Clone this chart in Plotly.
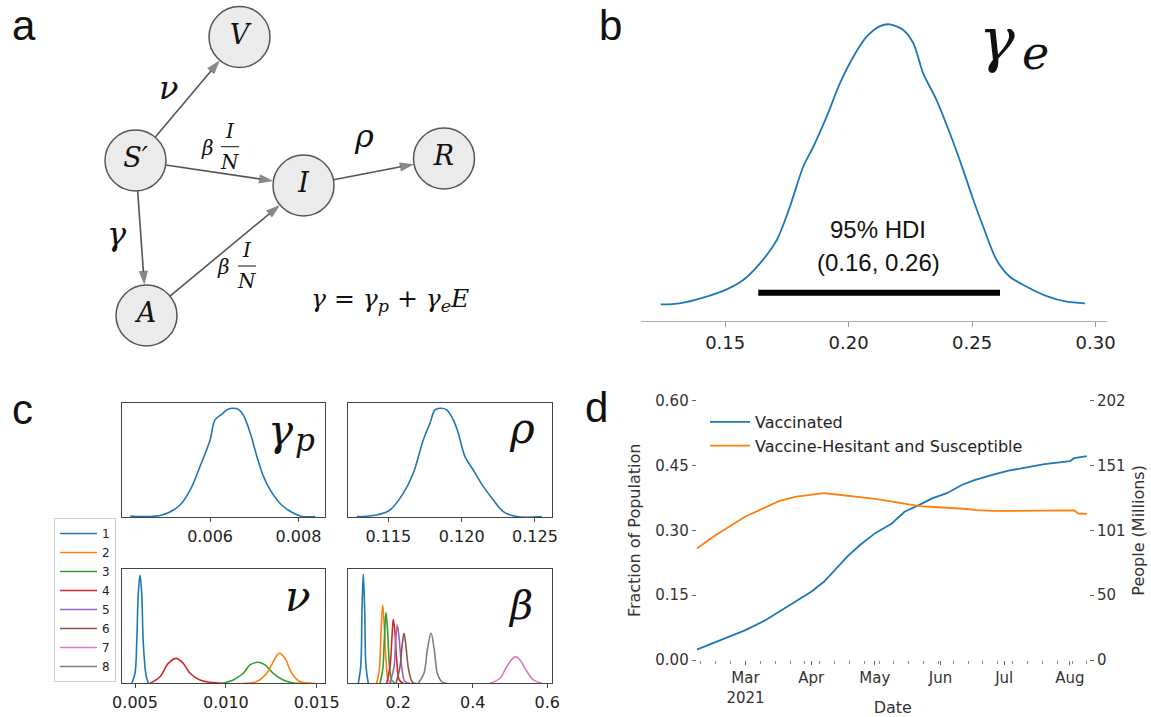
import math
import plotly.graph_objects as go

W, H = 1151, 717

# ---------------- panel a: compartment diagram ----------------
NODE_LABELS = ["<i>V</i>", "<i>S′</i>", "<i>I</i>", "<i>R</i>", "<i>A</i>"]
NODE_X = [239.5, 135.5, 303.5, 444.0, 146.5]
NODE_Y = [37.0, 160.5, 185.5, 158.5, 315.5]
NODE_R = 30.5
EDGE_FROM = [1, 1, 2, 1, 4]
EDGE_TO = [0, 2, 3, 4, 2]
RATE_TEXT = ["<i>ν</i>", "<i>ρ</i>", "<i>γ</i>"]
RATE_X = [168, 364, 117]
RATE_Y = [88, 136, 234]
FRAC_X = [230, 247]       # centre of the I/N fractions
FRAC_Y = [146.7, 266.0]   # fraction bar
BETA_X = [209, 225]
EQUATION = "<i>γ</i> = <i>γ</i><sub><i>p</i></sub> + <i>γ</i><sub><i>e</i></sub><i>E</i>"
EQ_X, EQ_Y = 390, 300

# ---------------- panel b: gamma_e posterior ----------------
GE_X = [0.1239, 0.1317, 0.1411, 0.1506, 0.1573, 0.1641, 0.1709, 0.1762, 0.1816, 0.1857,
        0.1911, 0.1965, 0.2019, 0.2073, 0.2127, 0.2167, 0.2221, 0.2262, 0.2302, 0.2356,
        0.2410, 0.2464, 0.2505, 0.2545, 0.2599, 0.2653, 0.2721, 0.2802, 0.2883, 0.2957]
GE_Y = [0.15, 0.21, 0.53, 1.00, 1.53, 2.47, 3.79, 5.67, 7.93, 9.06,
        10.76, 12.65, 14.15, 15.28, 15.88, 15.98, 15.66, 14.91, 13.21, 11.70,
        9.82, 7.74, 6.05, 4.54, 2.66, 1.71, 1.15, 0.62, 0.30, 0.21]
HDI_LOW, HDI_HIGH = 0.1634, 0.2613
HDI_LEVEL = 0.81

# ---------------- panel c: posteriors ----------------
GP_X = [0.00419, 0.00491, 0.00532, 0.00555, 0.00577, 0.00600, 0.00611, 0.00627, 0.00638, 0.00649,
        0.00664, 0.00675, 0.00691, 0.00706, 0.00721, 0.00736, 0.00762, 0.00804, 0.00838]
GP_Y = [0.012, 0.020, 0.108, 0.240, 0.444, 0.678, 0.854, 0.906, 0.942, 0.956,
        0.947, 0.898, 0.737, 0.532, 0.357, 0.240, 0.108, 0.012, 0.006]
RHO_X = [0.11284, 0.11421, 0.11511, 0.11602, 0.11670, 0.11738, 0.11784, 0.11818, 0.11852, 0.11898,
         0.11943, 0.11977, 0.12023, 0.12079, 0.12148, 0.12216, 0.12284, 0.12375, 0.12546]
RHO_Y = [0.006, 0.020, 0.064, 0.211, 0.386, 0.678, 0.825, 0.942, 0.956, 0.942,
         0.854, 0.737, 0.532, 0.415, 0.269, 0.152, 0.050, 0.006, 0.006]

GROUPS = ["1", "2", "3", "4", "5", "6", "7", "8"]
COLORS = ["#1f77b4", "#ff7f0e", "#2ca02c", "#d62728", "#9467bd", "#8c564b", "#e377c2", "#7f7f7f"]

NU_GROUPS = [0, 3, 2, 1]
NU_X = [
    [0.004816, 0.004998, 0.005092, 0.005180, 0.005273, 0.005367, 0.005455, 0.005604, 0.005730],
    [0.005824, 0.006374, 0.006831, 0.007255, 0.007657, 0.008026, 0.008576, 0.009308, 0.010046],
    [0.009859, 0.010409, 0.010960, 0.011328, 0.011785, 0.012154, 0.012611, 0.013161, 0.013712, 0.014262],
    [0.010960, 0.011697, 0.012248, 0.012611, 0.012942, 0.013255, 0.013624, 0.014081, 0.014907],
]
NU_Y = [
    [0.0, 0.088, 0.351, 0.789, 0.950, 0.789, 0.351, 0.073, 0.0],
    [0.0, 0.058, 0.175, 0.219, 0.175, 0.088, 0.029, 0.006, 0.0],
    [0.0, 0.029, 0.088, 0.161, 0.184, 0.161, 0.088, 0.029, 0.003, 0.0],
    [0.0, 0.015, 0.088, 0.190, 0.263, 0.219, 0.088, 0.015, 0.0],
]

BETA_XS = [
    [0.0926, 0.0991, 0.1026, 0.1061, 0.1098, 0.1133, 0.1195],
    [0.1420, 0.1490, 0.1536, 0.1581, 0.1625, 0.1670, 0.1732, 0.1823],
    [0.1509, 0.1581, 0.1625, 0.1670, 0.1716, 0.1759, 0.1823, 0.1912],
    [0.1689, 0.1777, 0.1831, 0.1866, 0.1912, 0.1957, 0.2027, 0.2134],
    [0.1777, 0.1885, 0.1931, 0.1973, 0.2027, 0.2092, 0.2180, 0.2314],
    [0.1939, 0.2046, 0.2100, 0.2153, 0.2207, 0.2279, 0.2387, 0.2494],
    [0.4462, 0.4730, 0.4910, 0.5071, 0.5160, 0.5267, 0.5428, 0.5625, 0.5850],
    [0.2537, 0.2690, 0.2779, 0.2878, 0.2967, 0.3047, 0.3165, 0.3300],
]
BETA_YS = [
    [0.0, 0.146, 0.643, 0.959, 0.643, 0.146, 0.0],
    [0.0, 0.117, 0.439, 0.687, 0.497, 0.205, 0.029, 0.0],
    [0.0, 0.117, 0.380, 0.620, 0.439, 0.175, 0.029, 0.0],
    [0.0, 0.146, 0.409, 0.561, 0.439, 0.205, 0.029, 0.0],
    [0.0, 0.146, 0.380, 0.512, 0.380, 0.146, 0.015, 0.0],
    [0.0, 0.146, 0.322, 0.439, 0.322, 0.117, 0.006, 0.0],
    [0.0, 0.044, 0.146, 0.219, 0.234, 0.205, 0.117, 0.029, 0.0],
    [0.0, 0.088, 0.292, 0.439, 0.292, 0.088, 0.015, 0.0],
]

# ---------------- panel d: vaccination time series ----------------
POP_MILLIONS = 336.7
VAC_DATES = ["2021-02-06", "2021-02-15", "2021-03-01", "2021-03-10", "2021-03-17", "2021-03-25",
             "2021-04-01", "2021-04-07", "2021-04-12", "2021-04-18", "2021-04-24", "2021-05-01",
             "2021-05-09", "2021-05-15", "2021-05-22", "2021-05-28", "2021-06-04", "2021-06-11",
             "2021-06-17", "2021-06-25", "2021-07-03", "2021-07-11", "2021-07-20", "2021-08-01",
             "2021-08-03", "2021-08-09"]
VAC = [0.024, 0.042, 0.069, 0.091, 0.112, 0.135, 0.158, 0.181, 0.208, 0.239, 0.266, 0.293,
       0.316, 0.343, 0.359, 0.374, 0.386, 0.405, 0.416, 0.428, 0.438, 0.445, 0.453, 0.460,
       0.467, 0.472]
HES_DATES = ["2021-02-06", "2021-02-15", "2021-03-01", "2021-03-10", "2021-03-17", "2021-03-25",
             "2021-04-01", "2021-04-07", "2021-04-13", "2021-04-21", "2021-04-29", "2021-05-05",
             "2021-05-10", "2021-05-16", "2021-05-22", "2021-05-29", "2021-06-04", "2021-06-12",
             "2021-06-18", "2021-06-26", "2021-07-05", "2021-07-13", "2021-07-21", "2021-08-03",
             "2021-08-05", "2021-08-09"]
HES = [0.258, 0.289, 0.332, 0.352, 0.368, 0.378, 0.383, 0.386, 0.383, 0.379, 0.374, 0.370,
       0.366, 0.360, 0.356, 0.354, 0.353, 0.350, 0.347, 0.345, 0.345, 0.345, 0.345, 0.346,
       0.339, 0.338]
MONTH_TICKS = ["2021-03-01", "2021-04-01", "2021-05-01", "2021-06-01", "2021-07-01", "2021-08-01"]
MONTH_TEXT = ["Mar<br>2021", "Apr", "May", "Jun", "Jul", "Aug"]
FRAC_TICKS = [0.0, 0.15, 0.30, 0.45, 0.60]


def dx(a, b):
    return [a / W, b / W]


def dy(top, bottom):
    return [1 - bottom / H, 1 - top / H]


SANS = "DejaVu Sans"
SERIF = "DejaVu Serif"
ARIAL = "Liberation Sans"

fig = go.Figure()

# ---- panel b ----
fig.add_trace(go.Scatter(x=GE_X, y=GE_Y, mode="lines",
                         line=dict(color=COLORS[0], width=1.8, shape="spline", smoothing=0.8),
                         showlegend=False, hoverinfo="skip", xaxis="x", yaxis="y"))
fig.add_trace(go.Scatter(x=[HDI_LOW, HDI_HIGH], y=[HDI_LEVEL, HDI_LEVEL], mode="lines",
                         line=dict(color="black", width=6), showlegend=False, hoverinfo="skip",
                         xaxis="x", yaxis="y"))

# ---- panel c ----
fig.add_trace(go.Scatter(x=GP_X, y=GP_Y, mode="lines", line=dict(color=COLORS[0], width=1.6, shape="spline"),
                         showlegend=False, hoverinfo="skip", xaxis="x2", yaxis="y2"))
fig.add_trace(go.Scatter(x=RHO_X, y=RHO_Y, mode="lines", line=dict(color=COLORS[0], width=1.6, shape="spline"),
                         showlegend=False, hoverinfo="skip", xaxis="x3", yaxis="y3"))
for g, xs, ys in zip(NU_GROUPS, NU_X, NU_Y):
    fig.add_trace(go.Scatter(x=xs, y=ys, mode="lines", line=dict(color=COLORS[g], width=1.6, shape="spline"),
                             showlegend=False, hoverinfo="skip", xaxis="x4", yaxis="y4"))
for i, (xs, ys) in enumerate(zip(BETA_XS, BETA_YS)):
    fig.add_trace(go.Scatter(x=xs, y=ys, mode="lines", name=GROUPS[i],
                             line=dict(color=COLORS[i], width=1.6, shape="spline"),
                             showlegend=True, legend="legend", hoverinfo="skip", xaxis="x5", yaxis="y5"))

# ---- panel d ----
fig.add_trace(go.Scatter(x=VAC_DATES, y=VAC, mode="lines", name="Vaccinated",
                         line=dict(color=COLORS[0], width=1.8), legend="legend2",
                         xaxis="x6", yaxis="y6"))
fig.add_trace(go.Scatter(x=HES_DATES, y=HES, mode="lines", name="Vaccine-Hesitant and Susceptible",
                         line=dict(color=COLORS[1], width=1.8), legend="legend2",
                         xaxis="x6", yaxis="y6"))
fig.add_trace(go.Scatter(x=VAC_DATES, y=[v * POP_MILLIONS for v in VAC], mode="lines",
                         line=dict(color="rgba(0,0,0,0)", width=0), showlegend=False,
                         hoverinfo="skip", xaxis="x6", yaxis="y7"))

# ---- panel a: edges (arrows) then nodes ----
for f, t in zip(EDGE_FROM, EDGE_TO):
    x0, y0, x1, y1 = NODE_X[f], NODE_Y[f], NODE_X[t], NODE_Y[t]
    d = math.hypot(x1 - x0, y1 - y0)
    ux, uy = (x1 - x0) / d, (y1 - y0) / d
    fig.add_trace(go.Scatter(
        x=[x0 + ux * NODE_R, x1 - ux * NODE_R], y=[y0 + uy * NODE_R, y1 - uy * NODE_R],
        mode="lines+markers", line=dict(color="#555", width=1.6),
        marker=dict(symbol=["circle", "arrow"], size=[0, 15], angleref="previous", color="#555",
                    line=dict(width=0)),
        showlegend=False, hoverinfo="skip", xaxis="x7", yaxis="y8"))

fig.add_trace(go.Scatter(x=NODE_X, y=NODE_Y, mode="markers+text", text=NODE_LABELS,
                         textposition="middle center",
                         textfont=dict(family=SERIF, size=27, color="#111"),
                         marker=dict(size=2 * NODE_R, color="#ebebeb", line=dict(color="#555", width=1.5)),
                         showlegend=False, hoverinfo="skip", xaxis="x7", yaxis="y8"))

ann = []
for txt, x, y in zip(RATE_TEXT, RATE_X, RATE_Y):
    ann.append(dict(x=x, y=y, xref="x7", yref="y8", text=txt, showarrow=False,
                    font=dict(family=SERIF, size=32, color="#111")))
for fx, fy, bx in zip(FRAC_X, FRAC_Y, BETA_X):
    ann.append(dict(x=fx, y=fy - 2, xref="x7", yref="y8", text="<i>I</i>", showarrow=False,
                    yanchor="bottom", font=dict(family=SERIF, size=20, color="#111")))
    ann.append(dict(x=fx, y=fy + 1, xref="x7", yref="y8", text="<i>N</i>", showarrow=False,
                    yanchor="top", font=dict(family=SERIF, size=20, color="#111")))
    ann.append(dict(x=bx - 2, y=fy + 1, xref="x7", yref="y8", text="<i>β</i>", showarrow=False,
                    font=dict(family=SERIF, size=20, color="#111")))
ann.append(dict(x=EQ_X, y=EQ_Y, xref="x7", yref="y8", text=EQUATION, showarrow=False,
                font=dict(family=SERIF, size=25, color="#111")))

shapes = []
for fx, fy in zip(FRAC_X, FRAC_Y):
    shapes.append(dict(type="line", xref="x7", yref="y8", x0=fx - 9, x1=fx + 9, y0=fy, y1=fy,
                       line=dict(color="#111", width=1)))

# ---- panel b text ----
ann.append(dict(x=0.2119, y=4.4, xref="x", yref="y", text="95% HDI", showarrow=False,
                font=dict(family=ARIAL, size=24, color="#111")))
ann.append(dict(x=0.2119, y=2.5, xref="x", yref="y", text="(0.16, 0.26)", showarrow=False,
                font=dict(family=ARIAL, size=24, color="#111")))

# ---- large parameter symbols (main glyph + subscript) ----
SYMBOLS = [  # text, x, y(centre), size
    ("<i>γ</i>", 997, 40, 60), ("<i>e</i>", 1035, 53, 46),     # panel b
    ("<i>γ</i>", 281, 430, 42), ("<i>p</i>", 305, 440, 31),    # panel c top-left
    ("<i>ρ</i>", 522, 428, 42),                                # panel c top-right
    ("<i>ν</i>", 298, 596, 42),                                # panel c bottom-left
    ("<i>β</i>", 520, 605, 40),                                # panel c bottom-right
]
for txt, x, y, s in SYMBOLS:
    ann.append(dict(x=x / W, y=1 - y / H, xref="paper", yref="paper", text=txt, showarrow=False,
                    xanchor="center", yanchor="middle",
                    font=dict(family=SERIF, size=s, color="#111")))

# ---- panel letters ----
for txt, x, y in [("a", 10, 0), ("b", 597, 0), ("c", 10, 384), ("d", 583, 382)]:
    ann.append(dict(x=x / W, y=1 - y / H, xref="paper", yref="paper", text=txt, showarrow=False,
                    xanchor="left", yanchor="top", font=dict(family=ARIAL, size=42, color="#111")))

tick_font_c = dict(family=SANS, size=16, color="#222")
box = dict(showline=True, mirror=True, linecolor="#444", linewidth=1, showgrid=False, zeroline=False)

layout = dict(
    width=W, height=H, margin=dict(l=0, r=0, t=0, b=0),
    paper_bgcolor="white", plot_bgcolor="rgba(0,0,0,0)",
    annotations=ann, shapes=shapes,
    # panel b
    xaxis=dict(domain=dx(640.7, 1106.7), range=[0.1158, 0.3045], anchor="y",
               tickvals=[0.15, 0.20, 0.25, 0.30], tickformat=".2f", ticks="outside", ticklen=5,
               tickcolor="#999", showline=True, linecolor="#aaa", linewidth=1, showgrid=False,
               zeroline=False, tickfont=dict(family=SANS, size=18, color="#222"), automargin=False),
    yaxis=dict(domain=dy(10, 321), range=[-0.79, 16.79], visible=False, anchor="x"),
    # panel c
    xaxis2=dict(domain=dx(121.7, 325), range=[0.0040, 0.0086], anchor="y2", tickvals=[0.006, 0.008],
                tickformat=".3f", ticks="outside", ticklen=4, tickcolor="#444", tickfont=tick_font_c,
                automargin=False, **box),
    yaxis2=dict(domain=dy(403.3, 517.3), range=[0, 1], anchor="x2", showticklabels=False, ticks="",
                automargin=False, **box),
    xaxis3=dict(domain=dx(348.3, 551.7), range=[0.11227, 0.12614], anchor="y3",
                tickvals=[0.115, 0.120, 0.125], tickformat=".3f", ticks="outside", ticklen=4,
                tickcolor="#444", tickfont=tick_font_c, automargin=False, **box),
    yaxis3=dict(domain=dy(403.3, 517.3), range=[0, 1], anchor="x3", showticklabels=False, ticks="",
                automargin=False, **box),
    xaxis4=dict(domain=dx(121.7, 325), range=[0.004266, 0.015458], anchor="y4",
                tickvals=[0.005, 0.010, 0.015], tickformat=".3f", ticks="outside", ticklen=4,
                tickcolor="#444", tickfont=tick_font_c, automargin=False, **box),
    yaxis4=dict(domain=dy(569.3, 683.3), range=[0, 1], anchor="x4", showticklabels=False, ticks="",
                automargin=False, **box),
    xaxis5=dict(domain=dx(348.3, 551.7), range=[0.0658, 0.6118], anchor="y5",
                tickvals=[0.2, 0.4, 0.6], tickformat=".1f", ticks="outside", ticklen=4,
                tickcolor="#444", tickfont=tick_font_c, automargin=False, **box),
    yaxis5=dict(domain=dy(569.3, 683.3), range=[0, 1], anchor="x5", showticklabels=False, ticks="",
                automargin=False, **box),
    # panel d
    xaxis6=dict(domain=dx(696.7, 1089), type="date", range=["2021-02-06", "2021-08-10"], anchor="y6",
                tickmode="array", tickvals=MONTH_TICKS, ticktext=MONTH_TEXT, ticks="outside",
                ticklen=4, tickcolor="#666", showline=False, showgrid=False, zeroline=False,
                tickfont=dict(family=SANS, size=15, color="#333"),
                minor=dict(tickmode="linear", tick0="2021-02-01", dtick=7 * 86400000, ticks="outside",
                           ticklen=3, tickcolor="#888", showgrid=False),
                title=dict(text="Date", font=dict(family=SANS, size=16, color="#333"), standoff=6),
                automargin=False),
    yaxis6=dict(domain=dy(400.7, 660), range=[0, 0.6], anchor="x6", tickvals=FRAC_TICKS,
                tickformat=".2f", ticks="outside", ticklen=4, tickcolor="#666", showline=False,
                showgrid=False, zeroline=False, tickfont=dict(family=SANS, size=15, color="#333"),
                title=dict(text="Fraction of Population", font=dict(family=SANS, size=16, color="#333"),
                           standoff=10),
                automargin=False),
    yaxis7=dict(overlaying="y6", side="right", anchor="x6", range=[0, 0.6 * POP_MILLIONS],
                tickvals=[v * POP_MILLIONS for v in FRAC_TICKS],
                ticktext=[str(int(v * POP_MILLIONS)) for v in FRAC_TICKS],
                ticks="outside", ticklen=4, tickcolor="#666", showline=False, showgrid=False,
                zeroline=False, tickfont=dict(family=SANS, size=15, color="#333"),
                title=dict(text="People (Millions)", font=dict(family=SANS, size=16, color="#333"),
                           standoff=8),
                automargin=False),
    # panel a (diagram canvas)
    xaxis7=dict(domain=dx(0, 580), range=[0, 580], visible=False, anchor="y8"),
    yaxis8=dict(domain=dy(0, 350), range=[350, 0], visible=False, anchor="x7"),
    legend=dict(x=54 / W, y=1 - 518 / H, xanchor="left", yanchor="top", bgcolor="white",
                bordercolor="#ccc", borderwidth=1, font=dict(family=SANS, size=12, color="#222"),
                itemwidth=37, tracegroupgap=0),
    legend2=dict(x=705 / W, y=1 - 405 / H, xanchor="left", yanchor="top", bgcolor="rgba(0,0,0,0)",
                 borderwidth=0, font=dict(family=SANS, size=16, color="#222"), itemwidth=40),
)
fig.update_layout(**layout)
fig.write_html("out.html")
